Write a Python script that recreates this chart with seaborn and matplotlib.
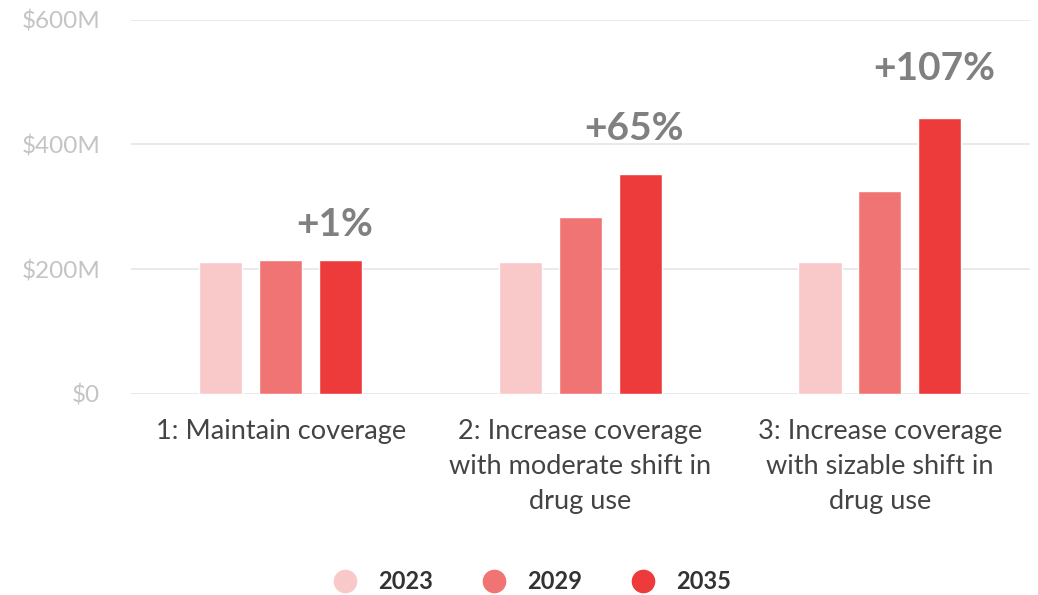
import pandas as pd
import matplotlib.pyplot as plt
import seaborn as sns
from matplotlib.lines import Line2D

# --- data ---
scenarios = ['1: Maintain coverage',
             '2: Increase coverage\nwith moderate shift in\ndrug use',
             '3: Increase coverage\nwith sizable shift in\ndrug use']
years = ['2023', '2029', '2035']
spend_2023 = [211, 211, 211]
spend_2029 = [215, 284, 326]
spend_2035 = [215, 353, 443]
growth_labels = ['+1%', '+65%', '+107%']
label_gap = [17, 24, 27]  # offset of growth label above the 2035 bar, points

colors = ['#f9c8c9', '#f17474', '#ed3b3b']

df = pd.DataFrame({
    'scenario': scenarios * 3,
    'year': [y for y in years for _ in scenarios],
    'value': spend_2023 + spend_2029 + spend_2035,
})

sns.set_theme(style='white')
plt.rcParams['font.family'] = ['Lato', 'DejaVu Sans']

fig = plt.figure(figsize=(10.38, 5.95), dpi=100)
ax = fig.add_axes([0.126, 0.338, 0.866, 0.629])

sns.barplot(data=df, x='scenario', y='value', hue='year', palette=colors,
            width=0.6, gap=0.28, ax=ax, legend=False, saturation=1)

ax.set_ylim(0, 600)
ax.set_xlim(-0.5, 2.5)
ax.set_yticks([0, 200, 400, 600])
ax.set_yticklabels(['$0', '$200M', '$400M', '$600M'])
ax.yaxis.grid(True, color='#e6e6e6', linewidth=1.2)
ax.set_axisbelow(True)
for s in ax.spines.values():
    s.set_visible(False)
ax.set_xlabel('')
ax.set_ylabel('')
ax.tick_params(axis='y', length=0, pad=22, labelsize=17.5, labelcolor='#c4c4c4')
ax.tick_params(axis='x', length=0, pad=18, labelsize=19.5, labelcolor='#444444')
for t in ax.get_xticklabels():
    t.set_linespacing(1.5)

# growth labels over the 2035 bars
for bar, txt, gap in zip(ax.containers[2], growth_labels, label_gap):
    ax.annotate(txt, (bar.get_x() + bar.get_width() / 2 - 0.02, bar.get_height()),
                xytext=(0, gap), textcoords='offset points', ha='center', va='baseline',
                fontsize=28, fontweight='bold', color='#808080', annotation_clip=False)

handles = [Line2D([], [], marker='o', linestyle='', markersize=16,
                  markerfacecolor=c, markeredgecolor=c) for c in colors]
leg = fig.legend(handles, years, loc='center', bbox_to_anchor=(0.507, 0.022),
                 ncol=3, frameon=False, handletextpad=0.4, columnspacing=1.6,
                 prop={'size': 17, 'weight': 'bold'})
for t in leg.get_texts():
    t.set_color('#333333')

fig.savefig('out.png', dpi=100)
